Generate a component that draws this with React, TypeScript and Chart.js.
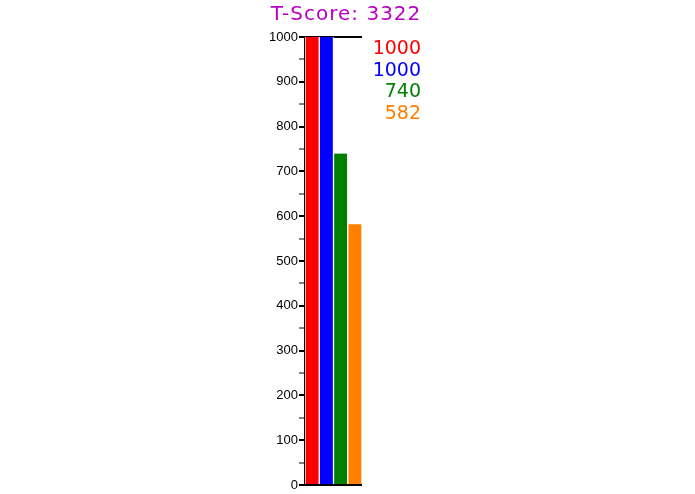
import { useEffect, useRef } from 'react'
import { Chart, registerables } from 'chart.js'

Chart.register(...registerables)

const categories = ['A', 'B', 'C', 'D']
const scores = [1000, 1000, 740, 582]
const barColors = ['#ff0000', '#0000ff', '#008000', '#ff8000']
const totalLabel = 'T-Score: 3322'

const FONT = '"Liberation Sans", Arial, sans-serif'
const WIDE = '"DejaVu Sans", sans-serif'

// draws the title and the coloured score list to the right of the bars
const sideText = {
  id: 'sideText',
  afterDraw(chart: Chart) {
    const { ctx, chartArea } = chart
    ctx.save()
    ctx.textBaseline = 'middle'
    ctx.font = `20px ${WIDE}`
    ;(ctx as any).letterSpacing = '1px'
    ctx.fillStyle = '#b800c4'
    ctx.textAlign = 'center'
    ctx.fillText(totalLabel, chartArea.left + 41, 15)
    ;(ctx as any).letterSpacing = '0px'
    ctx.textAlign = 'right'
    ctx.font = `19px ${WIDE}`
    scores.forEach((v, i) => {
      ctx.fillStyle = barColors[i]
      ctx.fillText(String(v), chartArea.right + 59, 49 + i * 21.7)
    })
    ctx.restore()
  },
}

export default function App() {
  const chartRef = useRef<HTMLCanvasElement>(null)
  const chartInstance = useRef<Chart | null>(null)

  useEffect(() => {
    if (!chartRef.current) return
    if (chartInstance.current) chartInstance.current.destroy()

    chartInstance.current = new Chart(chartRef.current, {
      type: 'bar',
      data: {
        labels: categories,
        datasets: [
          {
            data: scores,
            backgroundColor: barColors,
            borderColor: '#ffffff',
            borderWidth: { left: 1, right: 1, top: 0, bottom: 0 },
            borderSkipped: false,
            categoryPercentage: 1,
            barPercentage: 1,
          },
        ],
      },
      options: {
        animation: false,
        responsive: true,
        maintainAspectRatio: false,
        layout: { padding: { left: 265, right: 333, top: 37, bottom: 9 } },
        plugins: {
          legend: { display: false },
          title: { display: false },
          tooltip: { enabled: false },
        },
        scales: {
          x: {
            display: false,
            offset: true,
          },
          y: {
            min: 0,
            max: 1000,
            afterFit: (scale: any) => {
              scale.width = 40
            },
            ticks: {
              stepSize: 50,
              color: '#000',
              padding: 1,
              font: { family: FONT, size: 13 },
              callback: (v: any) => (Number(v) % 100 === 0 ? String(v) : ''),
            },
            border: { color: '#000', width: 2 },
            grid: {
              tickLength: 6,
              tickColor: '#000',
              tickWidth: (c: any) => (c.tick && c.tick.value % 100 === 0 ? 2 : 1),
              lineWidth: 2,
              color: (c: any) =>
                c.tick && (c.tick.value === 0 || c.tick.value === 1000) ? '#000' : 'rgba(0,0,0,0)',
            },
          },
        },
      },
      plugins: [sideText],
    })

    return () => {
      if (chartInstance.current) {
        chartInstance.current.destroy()
        chartInstance.current = null
      }
    }
  }, [])

  return (
    <div style={{ position: 'fixed', left: 0, top: 0, width: 695, height: 494, background: '#fff' }}>
      <canvas ref={chartRef} />
    </div>
  )
}
